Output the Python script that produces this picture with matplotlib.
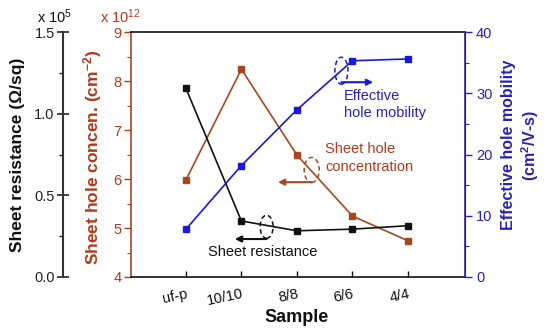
import matplotlib
matplotlib.use("Agg")
import matplotlib.pyplot as plt
from matplotlib.patches import Ellipse
from matplotlib.ticker import MultipleLocator

plt.rcParams['font.family'] = ['Liberation Sans', 'DejaVu Sans']
plt.rcParams['mathtext.fontset'] = 'custom'
plt.rcParams['mathtext.rm'] = 'Liberation Sans'
plt.rcParams['mathtext.bf'] = 'Liberation Sans:bold'
plt.rcParams['mathtext.default'] = 'regular'

samples = ["uf-p", "10/10", "8/8", "6/6", "4/4"]
sheet_resistance = [1.155, 0.343, 0.283, 0.293, 0.314]   # x 1e5 ohm/sq
hole_conc = [5.98, 8.24, 6.49, 5.245, 4.74]               # x 1e12 cm^-2
mobility = [7.8, 18.2, 27.3, 35.3, 35.6]                  # cm^2/V-s

BLACK = '#111111'
BROWN_LINE = '#a8471f'
BROWN_TXT = '#b03a1a'
BLUE_LINE = '#1818e0'
BLUE_AX = '#3322aa'
BLUE_TXT = '#2a22b8'

fig = plt.figure(figsize=(5.5, 3.34), dpi=100)
L, R, T, B = 131, 465, 32, 277
W, H = 550, 334
ax = fig.add_axes([L / W, 1 - B / H, (R - L) / W, (B - T) / H])
x = list(range(len(samples)))

# brown (main, left at plot edge)
ax.plot(x, hole_conc, '-s', color=BROWN_LINE, lw=1.2, ms=3.8, zorder=3)
ax.set_ylim(4, 9)
ax.set_xlim(-0.99, 5.03)
ax.yaxis.set_major_locator(MultipleLocator(1))
ax.yaxis.set_minor_locator(MultipleLocator(0.5))
ax.tick_params(axis='y', which='major', colors=BROWN_TXT, direction='out', length=5, width=1, labelsize=10.5, pad=2)
ax.tick_params(axis='y', which='minor', colors=BROWN_TXT, direction='out', length=3, width=0.8)
ax.spines['left'].set_color(BROWN_LINE)
ax.spines['top'].set_color(BLACK)
ax.spines['bottom'].set_color(BLACK)
ax.spines['top'].set_linewidth(1.2)
ax.spines['bottom'].set_linewidth(1.2)
ax.spines['left'].set_linewidth(1.2)
ax.set_xticks(x)
ax.set_xticklabels(samples, rotation=12, ha='right', rotation_mode='anchor')
ax.tick_params(axis='x', direction='in', length=4, width=1, labelsize=10.5, pad=7, colors=BLACK)

# black (offset left)
axb = ax.twinx()
axb.plot(x, sheet_resistance, '-s', color=BLACK, lw=1.2, ms=3.8, zorder=3)
axb.set_ylim(0, 1.5)
axb.yaxis.tick_left()
axb.spines['left'].set_position(('axes', -0.2036))
axb.spines['left'].set_visible(True)
axb.spines['left'].set_color('#333333')
axb.spines['left'].set_linewidth(1.5)
for s in ['right', 'top', 'bottom']:
    axb.spines[s].set_visible(False)
axb.yaxis.set_major_locator(MultipleLocator(0.5))
axb.yaxis.set_minor_locator(MultipleLocator(0.25))
axb.yaxis.set_major_formatter(matplotlib.ticker.FormatStrFormatter('%.1f'))
axb.tick_params(axis='y', which='major', direction='inout', length=8, width=1.2, labelsize=10.5, colors='#222222', pad=2)
axb.tick_params(axis='y', which='minor', direction='out', length=3, width=1, colors='#222222')

# blue (right)
axm = ax.twinx()
axm.plot(x, mobility, '-s', color=BLUE_LINE, lw=1.2, ms=3.8, zorder=3)
axm.set_ylim(0, 40)
axm.yaxis.set_major_locator(MultipleLocator(10))
axm.yaxis.set_minor_locator(MultipleLocator(5))
axm.spines['right'].set_color(BLUE_AX)
axm.spines['right'].set_linewidth(1.2)
for s in ['left', 'top', 'bottom']:
    axm.spines[s].set_visible(False)
axm.tick_params(axis='y', which='major', direction='out', length=5, width=1, labelsize=10.5, colors=BLUE_TXT, pad=3)
axm.tick_params(axis='y', which='minor', direction='out', length=3, width=0.8, colors=BLUE_AX)

# axis labels
fig.text(18 / W, 1 - 155 / H, 'Sheet resistance (\u03a9/sq)', rotation=90, ha='center', va='center',
         fontsize=12.5, fontweight='bold', color=BLACK)
fig.text(93 / W, 1 - 157 / H, 'Sheet hole concen. (cm$^{\\mathbf{-2}}$)', rotation=90, ha='center', va='center',
         fontsize=12.5, fontweight='bold', color=BROWN_TXT)
fig.text(521 / W, 1 - 145 / H, 'Effective hole mobility\n(cm$^{\\mathbf{2}}$/V-s)', rotation=90, ha='center', va='center',
         fontsize=11.5, fontweight='bold', color=BLUE_TXT, linespacing=1.25)
fig.text(297 / W, 1 - 318 / H, 'Sample', ha='center', va='center', fontsize=13, fontweight='bold', color=BLACK)
fig.text(37 / W, 1 - 17 / H, 'x 10$^{5}$', ha='left', va='center', fontsize=10.5, color=BLACK)
fig.text(100 / W, 1 - 17 / H, 'x 10$^{12}$', ha='left', va='center', fontsize=10.5, color=BROWN_TXT)

# annotations (axes fraction)
def note(cx, cy, w, h, ay, ax_end, color):
    e = Ellipse((cx, cy), w, h, transform=ax.transAxes, fill=False, ls=(0, (3, 2)), lw=1.1,
                edgecolor=color, zorder=5)
    ax.add_patch(e)
    ax.annotate('', xy=(ax_end, ay), xytext=(cx, ay), xycoords='axes fraction',
                arrowprops=dict(arrowstyle='-|>', lw=1.5, color=color, mutation_scale=9,
                                shrinkA=0, shrinkB=0), zorder=5)

note(0.406, 0.205, 0.039, 0.094, 0.155, 0.311, BLACK)
note(0.541, 0.437, 0.045, 0.102, 0.387, 0.440, BROWN_LINE)
note(0.630, 0.842, 0.039, 0.110, 0.795, 0.725, BLUE_LINE)

ax.text(0.231, 0.103, 'Sheet resistance', transform=ax.transAxes, ha='left', va='center',
        fontsize=10.5, color=BLACK)
ax.text(0.581, 0.486, 'Sheet hole\nconcentration', transform=ax.transAxes, ha='left', va='center',
        fontsize=10.5, color=BROWN_TXT, linespacing=1.35)
ax.text(0.638, 0.704, 'Effective\nhole mobility', transform=ax.transAxes, ha='left', va='center',
        fontsize=10.5, color=BLUE_TXT, linespacing=1.35)

fig.savefig('out.png', dpi=100)
